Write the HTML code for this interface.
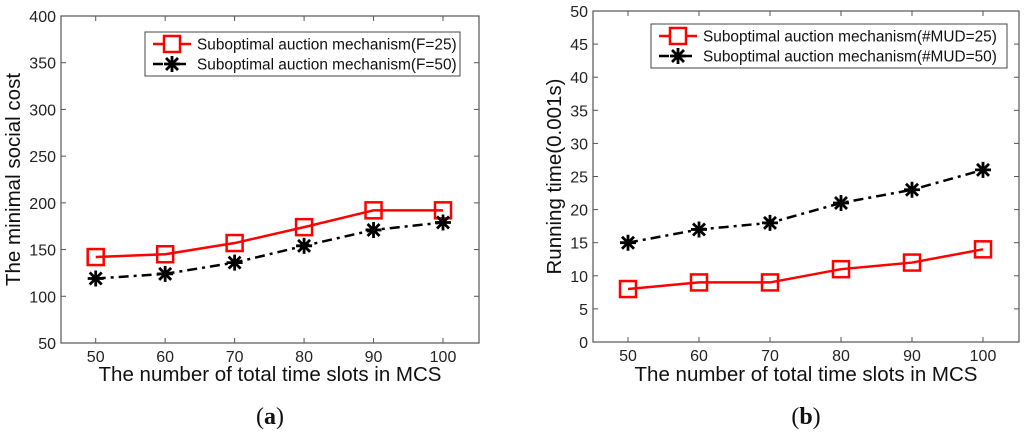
<!DOCTYPE html>
<html><head><meta charset="utf-8"><style>
body{margin:0;background:#fff;width:1024px;height:432px;overflow:hidden}
svg{font-family:"Liberation Sans",sans-serif}
</style></head><body>
<svg id="s" width="1024" height="432"></svg>
<script>
const xCats=[50,60,70,80,90,100];
const aF25=[142,145,157,174,192,192];
const aF50=[119,124,136,154,171,179];
const aYTicks=[50,100,150,200,250,300,350,400];
const bM25=[8,9,9,11,12,14];
const bM50=[15,17,18,21,23,26];
const bYTicks=[0,5,10,15,20,25,30,35,40,45,50];
const NS='http://www.w3.org/2000/svg';
const svg=document.getElementById('s');
function mk(t,a,p){const e=document.createElementNS(NS,t);for(const k in a)e.setAttribute(k,a[k]);(p||svg).appendChild(e);return e;}
function chart(c){
 const g=mk('g',{});
 
 
 const sx=v=>c.x0+(v-50)/50*(c.x1-c.x0);
 const sy=v=>c.bot-(v-c.ymin)/(c.ymax-c.ymin)*(c.bot-c.top);
 const fr=mk('rect',{x:c.L,y:c.top,width:c.R-c.L,height:c.bot-c.top,fill:'none',stroke:'#555','stroke-width':1.2},g);
 
 c.yt.forEach(v=>{const y=sy(v);
  mk('line',{x1:c.L,x2:c.L+5,y1:y,y2:y,stroke:'#555'},g);mk('line',{x1:c.R,x2:c.R-5,y1:y,y2:y,stroke:'#555'},g);
  const t=mk('text',{x:c.L-5,y:y+6,'text-anchor':'end','font-size':16,fill:'#222'},g);t.textContent=v;
  });
 xCats.forEach(v=>{const x=sx(v);
  mk('line',{x1:x,x2:x,y1:c.bot,y2:c.bot-5,stroke:'#555'},g);mk('line',{x1:x,x2:x,y1:c.top,y2:c.top+5,stroke:'#555'},g);
  const t=mk('text',{x:x,y:c.bot+19,'text-anchor':'middle','font-size':16,fill:'#222'},g);t.textContent=v;
  });
 const xt=mk('text',{x:(c.L+c.R)/2,y:381,'text-anchor':'middle','font-size':20.5,fill:'#111'},g);xt.textContent='The number of total time slots in MCS';
 
 const yy=(c.top+c.bot)/2;
 const yt=mk('text',{x:c.ytx,y:yy,'text-anchor':'middle','font-size':20.5,fill:'#111',transform:`rotate(-90 ${c.ytx} ${yy})`},g);yt.textContent=c.ytitle;
 
 const cap=mk('text',{x:(c.L+c.R)/2,y:424,'text-anchor':'middle','font-size':24,'font-family':'Liberation Serif,serif',fill:'#111'},g);
 cap.innerHTML='(<tspan font-weight="bold">'+c.cap+'</tspan>)';
 
 const p1=mk('polyline',{points:c.s1.map((v,i)=>sx(xCats[i])+','+sy(v)).join(' '),fill:'none',stroke:'#f00','stroke-width':2.5},g);
 
 const p2=mk('polyline',{points:c.s2.map((v,i)=>sx(xCats[i])+','+sy(v)).join(' '),fill:'none',stroke:'#000','stroke-width':2.5,'stroke-dasharray':'10 5 3 5'},g);
 
 function sq(x,y){const r=mk('rect',{x:x-8,y:y-8,width:16,height:16,fill:'none',stroke:'#f00','stroke-width':2.5},g);
  }
 function star(x,y){const s=mk('path',{d:`M${x-8},${y}h16M${x},${y-8}v16M${x-6},${y-6}l12,12M${x-6},${y+6}l12,-12`,stroke:'#000','stroke-width':2.8},g);
  }
 c.s1.forEach((v,i)=>sq(sx(xCats[i]),sy(v)));
 c.s2.forEach((v,i)=>star(sx(xCats[i]),sy(v)));
 const lg=mk('g',{},g);
 mk('rect',{x:c.lx,y:c.ly,width:c.lw,height:44,fill:'#fff',stroke:'#444'},lg);
 const y1=c.ly+12,y2=c.ly+32;
 mk('line',{x1:c.lx+8,x2:c.lx+46,y1:y1,y2:y1,stroke:'#f00','stroke-width':2.5},lg);
 mk('line',{x1:c.lx+8,x2:c.lx+46,y1:y2,y2:y2,stroke:'#000','stroke-width':2.5,'stroke-dasharray':'10 5 3 5'},lg);
 const lx=c.lx+27;
 {const r=mk('rect',{x:lx-8,y:y1-8,width:16,height:16,fill:'#fff',stroke:'#f00','stroke-width':2.5},lg);}
 {const s=mk('path',{d:`M${lx-8},${y2}h16M${lx},${y2-8}v16M${lx-6},${y2-6}l12,12M${lx-6},${y2+6}l12,-12`,stroke:'#000','stroke-width':2.8},lg);}
 [c.l1,c.l2].forEach((s,i)=>{const t=mk('text',{x:c.lx+52,y:(i?y2:y1)+5.5,'font-size':15.4,fill:'#111'},lg);t.textContent=s;
  });
}
chart({name:'chart-a',L:61,R:479,top:16,bot:343,x0:95.7,x1:443,ymin:50,ymax:400,yt:aYTicks,s1:aF25,s2:aF50,ytx:20,ytitle:'The minimal social cost',cap:'a',lx:145,ly:32,lw:315,l1:'Suboptimal auction mechanism(F=25)',l2:'Suboptimal auction mechanism(F=50)'});
chart({name:'chart-b',L:593,R:1019,top:11,bot:342,x0:628,x1:983,ymin:0,ymax:50,yt:bYTicks,s1:bM25,s2:bM50,ytx:561,ytitle:'Running time(0.001s)',cap:'b',lx:651,ly:24,lw:356,l1:'Suboptimal auction mechanism(#MUD=25)',l2:'Suboptimal auction mechanism(#MUD=50)'});
</script>
</body></html>
